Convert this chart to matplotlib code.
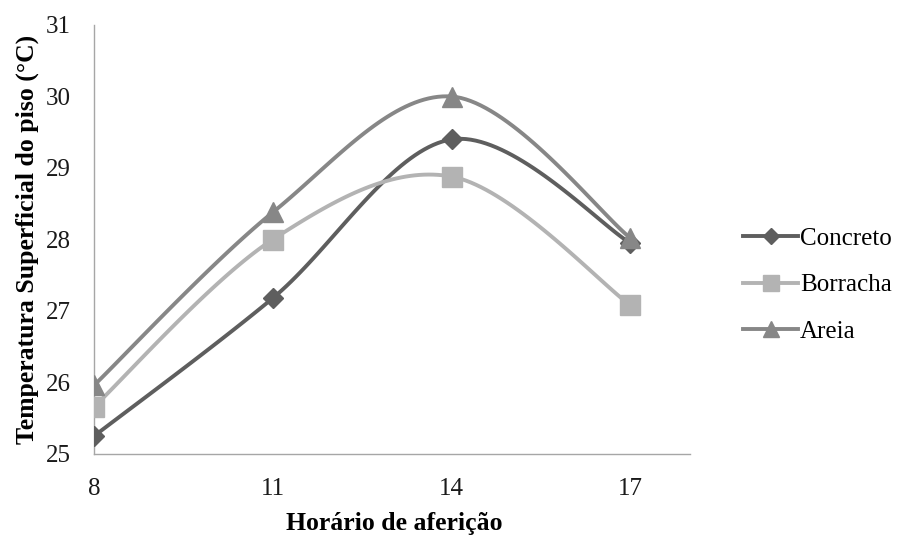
import numpy as np
import matplotlib
matplotlib.use("Agg")
import matplotlib.pyplot as plt
from matplotlib.lines import Line2D

hours = [8, 11, 14, 17]
concreto = [25.25, 27.18, 29.40, 27.95]
borracha = [25.66, 28.00, 28.88, 27.08]
areia = [25.96, 28.38, 30.00, 28.02]
labels = ["Concreto", "Borracha", "Areia"]
x_ticks = [8, 11, 14, 17]
y_ticks = [25, 26, 27, 28, 29, 30, 31]

colors = ["#5e5e5e", "#b3b3b3", "#878787"]
markers = ["D", "s", "^"]
msizes = [10, 14, 15]

plt.rcParams['font.family'] = ['Liberation Serif', 'DejaVu Serif']


def smooth(xs, ys, n=40):
    xs = np.asarray(xs, float)
    ys = np.asarray(ys, float)
    P = np.column_stack([xs, ys])
    out = []
    m = len(P)
    t = np.linspace(0, 1, n)[:, None]
    for i in range(m - 1):
        p0 = P[i - 1] if i > 0 else P[i]
        p1 = P[i]
        p2 = P[i + 1]
        p3 = P[i + 2] if i + 2 < m else P[i + 1]
        c1 = p1 + (p2 - p0) / 6.0
        c2 = p2 - (p3 - p1) / 6.0
        seg = ((1 - t) ** 3) * p1 + 3 * ((1 - t) ** 2) * t * c1 + 3 * (1 - t) * t ** 2 * c2 + t ** 3 * p2
        out.append(seg if i == 0 else seg[1:])
    out = np.vstack(out)
    return out[:, 0], out[:, 1]


fig = plt.figure(figsize=(9, 5.35), dpi=100)
ax = fig.add_axes([94 / 900, 1 - 454 / 535, (690 - 94) / 900, (454 - 25) / 535])

handles = []
for ys, c, mk, ms, lb in zip([concreto, borracha, areia], colors, markers, msizes, labels):
    sx, sy = smooth(hours, ys)
    ax.plot(sx, sy, color=c, lw=2.8, solid_capstyle='round', zorder=2)
    ax.plot(hours, ys, linestyle='none', marker=mk, ms=ms, color=c, mec=c, zorder=3)
    handles.append(Line2D([0], [0], color=c, lw=2.8, marker=mk, ms=ms * 0.8, mec=c))

ax.set_xlim(8, 18)
ax.set_ylim(25, 31)
ax.set_xticks(x_ticks)
ax.set_yticks(y_ticks)
ax.tick_params(axis='both', length=0, labelsize=18, colors='#1a1a1a')
ax.tick_params(axis='x', pad=17)
ax.tick_params(axis='y', pad=17)
for s in ['top', 'right']:
    ax.spines[s].set_visible(False)
for s in ['left', 'bottom']:
    ax.spines[s].set_color('#a6a6a6')
    ax.spines[s].set_linewidth(1.0)

ax.set_xlabel("Horário de aferição", fontsize=18.5, fontweight='bold')
ax.set_ylabel("Temperatura Superficial do piso (°C)", fontsize=18.5, fontweight='bold')
ax.xaxis.set_label_coords(0.503, -0.135)
ax.yaxis.set_label_coords(-0.092, 0.5)

fig.legend(handles, labels, loc='center left', bbox_to_anchor=(743 / 900, 1 - 285 / 535),
           frameon=False, fontsize=18, handlelength=2.2, handletextpad=0.08,
           labelspacing=0.95, borderpad=0, borderaxespad=0)

fig.savefig("out.png", dpi=100)
